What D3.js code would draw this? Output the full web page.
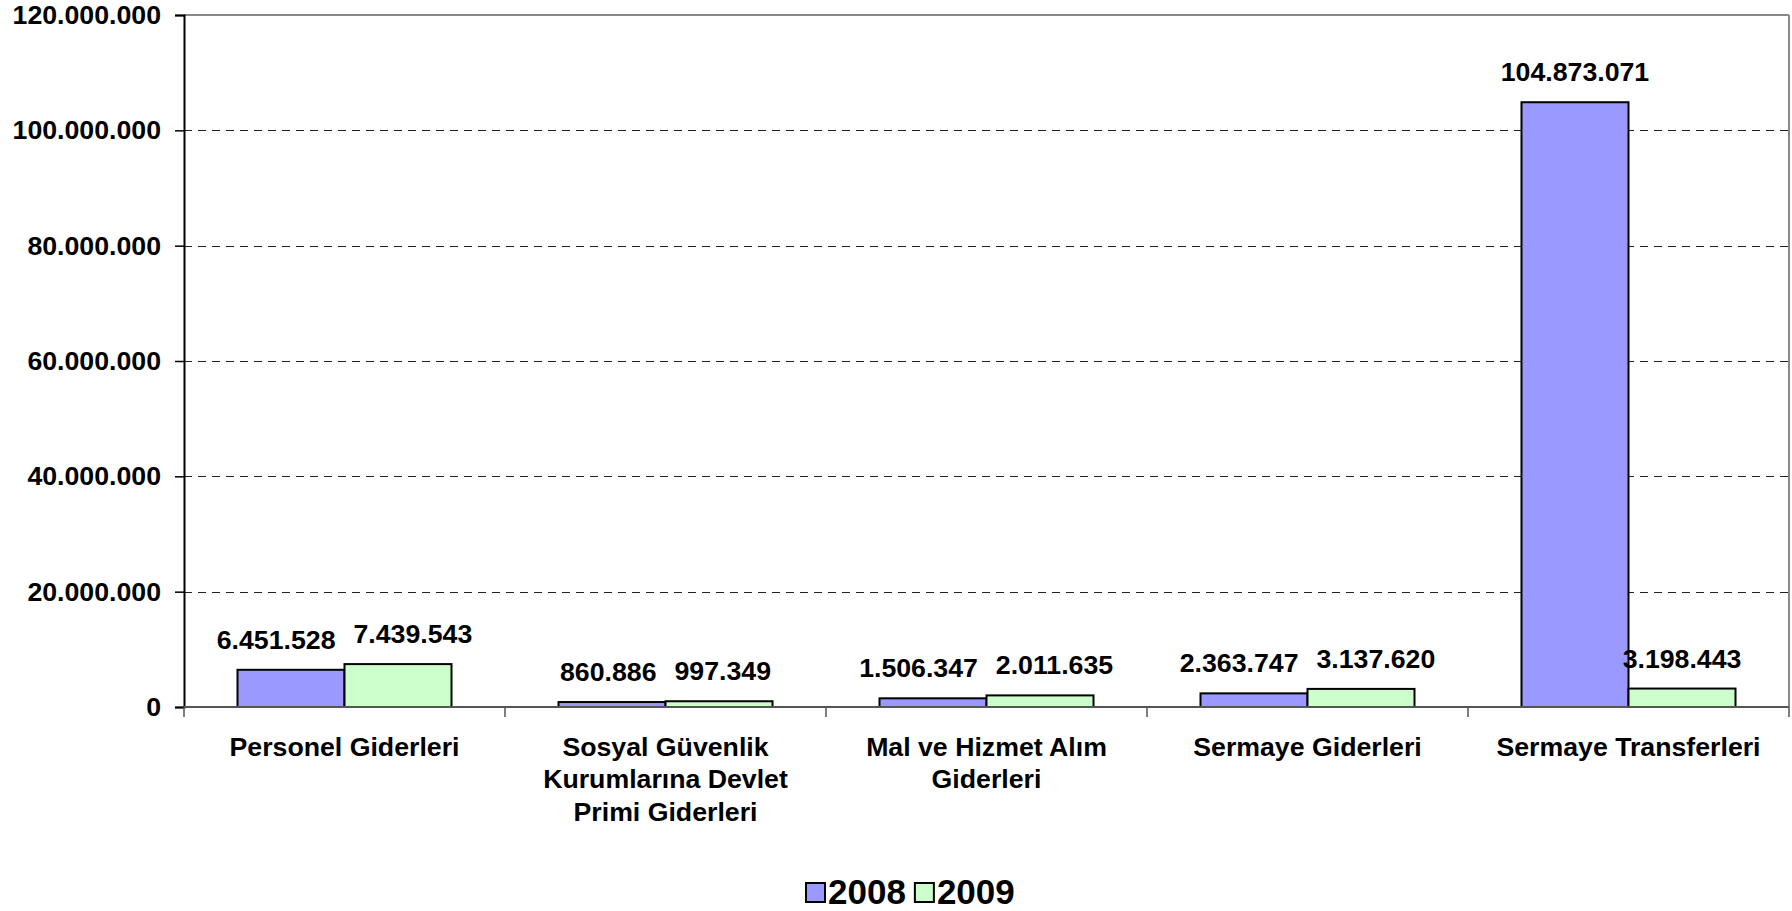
<!DOCTYPE html>
<html>
<head>
<meta charset="utf-8">
<script src="https://cdn.jsdelivr.net/npm/d3@7"></script>
<style>
  html, body { margin: 0; padding: 0; background: #fff; }
  svg { display: block; }
  text { font-family: "Liberation Sans", Arial, sans-serif; font-weight: bold; fill: #000; }
</style>
</head>
<body>
<svg id="chart" width="1792" height="911"></svg>
<script>
// ---- data ----
const categories = [
  "Personel Giderleri",
  "Sosyal Güvenlik Kurumlarına Devlet Primi Giderleri",
  "Mal ve Hizmet Alım Giderleri",
  "Sermaye Giderleri",
  "Sermaye Transferleri"
];
const seriesNames = ["2008", "2009"];
const values2008 = [6451528, 860886, 1506347, 2363747, 104873071];
const values2009 = [7439543, 997349, 2011635, 3137620, 3198443];
const yTicks = [0, 20000000, 40000000, 60000000, 80000000, 100000000, 120000000];
const seriesColors = ["#9999FF", "#CCFFCC"];

(function () {
// ---- layout ----
const svg = d3.select("#chart");
const plotLeft = 184, plotRight = 1789, plotTop = 15, plotBottom = 707;
const fontSize = 26.7;

const locale = d3.formatLocale({ decimal: ",", thousands: ".", grouping: [3], currency: ["", ""] });
const fmt = locale.format(",d");

const x0 = d3.scaleBand().domain(categories).range([plotLeft, plotRight]).padding(0);
const bw = x0.bandwidth();
const x1 = d3.scaleBand().domain(seriesNames).range([bw / 6, bw * 5 / 6]).padding(0);
const y = d3.scaleLinear().domain([0, 120000000]).range([plotBottom, plotTop]);

const seriesValues = [values2008, values2009];

// gridlines (dashed)
svg.append("g")
  .selectAll("line")
  .data(yTicks.filter(d => d > 0 && d < 120000000))
  .join("line")
  .attr("x1", plotLeft).attr("x2", plotRight)
  .attr("y1", d => Math.round(y(d)) + 0.5).attr("y2", d => Math.round(y(d)) + 0.5)
  .attr("stroke", "#222").attr("stroke-width", 1)
  .attr("stroke-dasharray", "8,6");

// plot border top/right (gray)
svg.append("line").attr("x1", plotLeft).attr("x2", plotRight).attr("y1", y(120000000)).attr("y2", y(120000000))
  .attr("stroke", "#888").attr("stroke-width", 2);
svg.append("line").attr("x1", plotRight).attr("x2", plotRight).attr("y1", plotTop).attr("y2", plotBottom)
  .attr("stroke", "#888").attr("stroke-width", 2);

// bars
const barGroups = svg.append("g").selectAll("g")
  .data(categories)
  .join("g")
  .attr("transform", d => `translate(${x0(d)},0)`);

barGroups.selectAll("rect")
  .data((c, i) => seriesNames.map((s, j) => ({ s, v: seriesValues[j][i], j })))
  .join("rect")
  .attr("x", d => x1(d.s))
  .attr("width", x1.bandwidth())
  .attr("y", d => y(d.v))
  .attr("height", d => y(0) - y(d.v))
  .attr("fill", d => seriesColors[d.j])
  .attr("stroke", "#000")
  .attr("stroke-width", 2);

// y axis
const yAxis = d3.axisLeft(y).tickValues(yTicks).tickFormat(fmt).tickSize(9).tickPadding(14);
const yg = svg.append("g").attr("transform", `translate(${plotLeft},0)`).call(yAxis);
yg.select(".domain").attr("stroke", "#000").attr("stroke-width", 2);
yg.selectAll(".tick line").attr("stroke", "#000").attr("stroke-width", 1.5);
yg.selectAll(".tick text").style("font-size", fontSize + "px").style("font-family", "'Liberation Sans', Arial, sans-serif").style("font-weight", "bold").attr("fill", "#000");

// x axis
const xg = svg.append("g").attr("transform", `translate(0,${plotBottom})`);
xg.append("line").attr("x1", plotLeft).attr("x2", plotRight).attr("y1", 0).attr("y2", 0)
  .attr("stroke", "#555").attr("stroke-width", 2);
const boundaries = categories.map(c => x0(c)).concat([x0(categories[categories.length - 1]) + bw]);
xg.selectAll("line.tk").data(boundaries).join("line").attr("class", "tk")
  .attr("x1", d => d).attr("x2", d => d).attr("y1", 0).attr("y2", 10)
  .attr("stroke", "#555").attr("stroke-width", 1.5);

// category labels with wrapping
const wrapWidth = bw * 0.9;
const lineH = 32.3;
categories.forEach(c => {
  const cx = x0(c) + bw / 2;
  const t = xg.append("text")
    .attr("text-anchor", "middle")
    .style("font-size", fontSize + "px")
    .attr("x", cx)
    .attr("y", 49);
  const words = c.split(" ");
  let line = [];
  let tspan = t.append("tspan").attr("x", cx).attr("dy", 0);
  words.forEach(w => {
    line.push(w);
    tspan.text(line.join(" "));
    if (tspan.node().getComputedTextLength() > wrapWidth && line.length > 1) {
      line.pop();
      tspan.text(line.join(" "));
      line = [w];
      tspan = t.append("tspan").attr("x", cx).attr("dy", lineH).text(w);
    }
  });
});

// value labels with simple collision avoidance
const labelGap = 21;
const minGap = 18;
const lg = svg.append("g");
categories.forEach((c, i) => {
  const labels = seriesNames.map((s, j) => {
    const v = seriesValues[j][i];
    const cx = x0(c) + x1(s) + x1.bandwidth() / 2;
    const t = lg.append("text")
      .attr("text-anchor", "middle")
      .style("font-size", fontSize + "px")
      .attr("x", cx)
      .attr("y", y(v) - labelGap)
      .text(fmt(v));
    return { t, cx, yb: y(v) - labelGap, w: t.node().getComputedTextLength() };
  });
  const a = labels[0], b = labels[1];
  if (Math.abs(a.yb - b.yb) < fontSize) {
    const need = (a.w + b.w) / 2 + minGap - (b.cx - a.cx);
    if (need > 0) {
      a.t.attr("x", a.cx - need / 2);
      b.t.attr("x", b.cx + need / 2);
    }
  }
});

// legend
const legendFont = 35;
const lgd = svg.append("g").attr("transform", "translate(805,882)");
let lx = 0;
seriesNames.forEach((s, j) => {
  lgd.append("rect").attr("x", lx + 1).attr("y", 1).attr("width", 19).attr("height", 19)
    .attr("fill", seriesColors[j]).attr("stroke", "#000").attr("stroke-width", 2);
  const t = lgd.append("text").attr("x", lx + 23).attr("y", 21.5)
    .style("font-size", legendFont + "px").text(s);
  lx += 23 + t.node().getComputedTextLength() + 8;
});
})();
</script>
</body>
</html>
